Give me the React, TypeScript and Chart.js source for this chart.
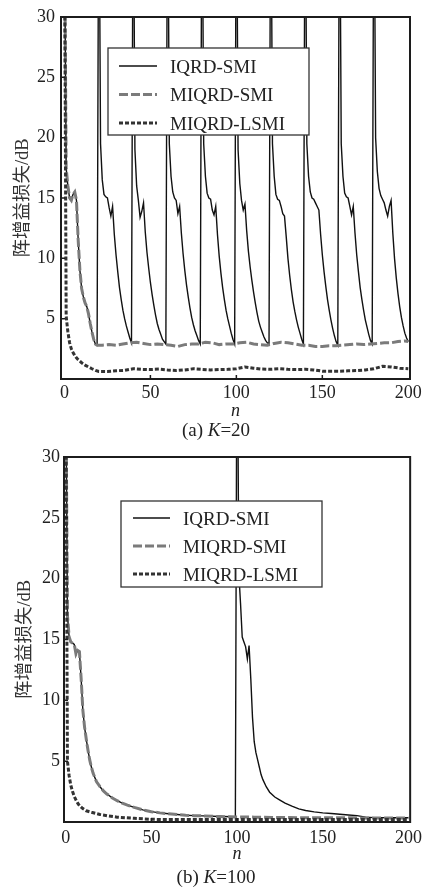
import React, { useEffect, useRef } from "react";
import { Chart, registerables } from "chart.js";

Chart.register(...registerables);

// ---------- labels / ticks ----------
const SERIES_LABELS = ["IQRD-SMI", "MIQRD-SMI", "MIQRD-LSMI"];
const X_TICKS = [0, 50, 100, 150, 200];
const Y_TICKS = [5, 10, 15, 20, 25, 30];
const Y_TITLE = "阵增益损失/dB";
const X_TITLE = "n";

// ---------- (a) K = 20 ----------
// IQRD-SMI, one value per n = 0..200
const k20IqrdY = [
  38, 17.5, 16, 15, 14.8, 15.3, 15.5, 14.8, 11.5, 9.0, 7.5, 6.8, 6.3, 6.0, 5.4, 4.6, 3.9, 3.3, 2.9, 2.8,
  45, 19.5, 16.5, 15.3, 15.1, 15.0, 14.2, 13.5, 14.3, 12.0, 10.3, 8.9, 7.6, 6.6, 5.7, 5.0, 4.4, 3.9, 3.4, 3.0,
  45, 19.0, 16.0, 14.8, 13.4, 13.9, 14.6, 12.2, 10.5, 9.2, 8.0, 7.0, 6.1, 5.3, 4.6, 4.1, 3.7, 3.3, 3.1, 2.9,
  45, 19.5, 16.8, 15.5, 15.0, 14.8, 13.7, 14.3, 12.1, 10.4, 9.0, 7.8, 6.8, 5.9, 5.1, 4.5, 4.0, 3.6, 3.2, 2.9,
  45, 19.5, 16.8, 15.4, 15.0, 14.9, 14.0, 13.6, 14.3, 12.0, 10.2, 8.8, 7.6, 6.6, 5.7, 5.0, 4.4, 3.8, 3.3, 2.9,
  45, 19.0, 16.2, 14.8, 14.0, 14.5, 12.3, 10.6, 9.3, 8.2, 7.2, 6.3, 5.5, 4.8, 4.3, 3.9, 3.5, 3.2, 3.0, 2.9,
  45, 19.5, 16.8, 15.3, 14.9, 14.8, 14.3, 13.7, 13.5, 11.8, 10.0, 8.6, 7.4, 6.4, 5.6, 4.9, 4.3, 3.8, 3.3, 2.9,
  45, 19.5, 16.8, 15.5, 15.0, 14.9, 14.6, 14.3, 14.0, 12.0, 10.3, 8.9, 7.7, 6.6, 5.7, 4.9, 4.2, 3.6, 3.1, 2.8,
  45, 19.5, 16.8, 15.4, 15.1, 15.0, 14.3, 13.6, 14.3, 12.1, 10.3, 8.9, 7.6, 6.6, 5.7, 4.9, 4.3, 3.7, 3.2, 2.9,
  45, 20.0, 17.2, 15.8, 15.2, 14.9, 14.6, 14.0, 13.5, 14.3, 14.8, 12.1, 10.0, 8.4, 7.1, 6.0, 5.1, 4.4, 3.8, 3.4, 3.1,
];

const k20MiqrdX = [
  0, 1, 2, 3, 4, 5, 6, 7, 8, 9, 10, 11, 12, 13, 14, 15, 16, 17, 18, 19,
  22, 26, 30, 34, 38, 42, 46, 50, 54, 58, 62, 66, 70, 74, 78, 82, 86, 90, 94, 98,
  102, 106, 110, 114, 118, 122, 126, 130, 134, 138, 142, 146, 150, 154, 158, 162,
  166, 170, 174, 178, 182, 186, 190, 194, 198, 200,
];
const k20MiqrdY = [
  38, 17.5, 16, 15, 14.8, 15.3, 15.5, 14.8, 11.5, 9.0, 7.5, 6.8, 6.3, 6.0, 5.4, 4.6, 3.9, 3.3, 2.9, 2.8,
  2.8, 2.85, 2.8, 2.9, 3.0, 3.05, 2.95, 2.85, 2.9, 2.85, 2.8, 2.7, 2.85, 2.9, 2.9, 3.05, 3.0, 2.85, 2.9, 2.9,
  3.0, 3.05, 2.9, 2.85, 2.8, 2.95, 3.05, 3.0, 2.9, 2.8, 2.8, 2.7, 2.7, 2.75, 2.75, 2.8,
  2.85, 2.9, 2.85, 2.9, 2.95, 3.0, 3.0, 3.1, 3.15, 3.1,
];

const k20LsmiX = [
  0, 1, 2, 3, 4, 5, 6, 7, 8, 10, 12, 14, 16, 18,
  20, 25, 30, 35, 40, 45, 50, 55, 60, 65, 70, 75, 80, 85, 90, 95, 100,
  105, 110, 115, 120, 125, 130, 135, 140, 145, 150, 155, 160, 165, 170, 175, 180, 185, 190, 195, 200,
];
const k20LsmiY = [
  38, 5.2, 3.9, 3.0, 2.5, 2.2, 1.95, 1.75, 1.6, 1.35, 1.15, 1.0, 0.85, 0.72,
  0.62, 0.62, 0.68, 0.72, 0.85, 0.8, 0.78, 0.82, 0.75, 0.7, 0.75, 0.85, 0.8, 0.75, 0.78, 0.8, 0.85,
  1.0, 0.9, 0.82, 0.8, 0.85, 0.8, 0.78, 0.8, 0.75, 0.65, 0.65, 0.65, 0.68, 0.7, 0.75, 0.85, 1.05, 1.0, 0.9, 0.85,
];

// ---------- (b) K = 100 ----------
const k100IqrdX = [
  0, 1, 2, 3, 4, 5, 6, 7, 8, 9, 10, 11, 12, 13, 14, 15, 16,
  18, 20, 22, 24, 27, 30, 33, 36, 40, 45, 50, 55, 60, 65, 70, 75, 80, 90, 99,
  100, 101, 102, 103, 104, 105, 106, 107, 108, 109, 110, 111, 112, 113, 114, 115,
  117, 119, 122, 125, 128, 132, 136, 140, 145, 150, 155, 160, 165, 170, 175, 180, 190, 200,
];
const k100IqrdY = [
  38, 17, 15.2, 14.8, 14.7, 14.6, 13.8, 14.1, 14.0, 11.8, 9.2, 7.8, 6.8, 5.9, 5.1, 4.5, 4.0,
  3.3, 2.9, 2.55, 2.3, 2.0, 1.75, 1.55, 1.38, 1.2, 1.0, 0.85, 0.75, 0.68, 0.62, 0.56, 0.52, 0.5, 0.45, 0.43,
  45, 20.5, 18.0, 15.2, 14.8, 14.4, 13.4, 14.5, 11.8, 8.6, 6.6, 5.7, 5.1, 4.5, 3.9, 3.5,
  2.9, 2.45, 2.05, 1.8, 1.55, 1.3, 1.08, 0.95, 0.83, 0.75, 0.7, 0.64, 0.58, 0.52, 0.4, 0.36, 0.35, 0.35,
];

const k100MiqrdX = [
  0, 1, 2, 3, 4, 5, 6, 7, 8, 9, 10, 11, 12, 13, 14, 15, 16,
  18, 20, 22, 24, 27, 30, 33, 36, 40, 45, 50, 55, 60, 65, 70, 75, 80, 90, 100,
  110, 120, 140, 160, 180, 200,
];
const k100MiqrdY = [
  38, 17, 15.2, 14.8, 14.7, 14.6, 13.8, 14.1, 14.0, 11.8, 9.2, 7.8, 6.8, 5.9, 5.1, 4.5, 4.0,
  3.3, 2.9, 2.55, 2.3, 2.0, 1.75, 1.55, 1.38, 1.2, 1.0, 0.85, 0.75, 0.68, 0.62, 0.56, 0.52, 0.5, 0.45, 0.42,
  0.4, 0.38, 0.35, 0.35, 0.33, 0.33,
];

const k100LsmiX = [0, 1, 2, 3, 4, 5, 6, 7, 8, 10, 12, 15, 20, 25, 30, 40, 50, 60, 80, 100, 120, 150, 200];
const k100LsmiY = [38, 5.0, 3.8, 3.0, 2.5, 2.1, 1.8, 1.55, 1.35, 1.1, 0.92, 0.8, 0.62, 0.5, 0.4, 0.3, 0.22, 0.2, 0.2, 0.2, 0.2, 0.2, 0.2];

// ---------- styles ----------
const SERIF = "'Liberation Serif', 'Times New Roman', serif";
const TITLE_FONT = "'Liberation Serif', 'Noto Sans CJK SC', serif";
const TEXT = "#222";

const STYLES = [
  { borderColor: "#111", borderWidth: 1.4, borderDash: [] as number[], order: 2 },
  { borderColor: "#7b7b7b", borderWidth: 3, borderDash: [9, 3], order: 1 },
  { borderColor: "#333", borderWidth: 3, borderDash: [4, 2], order: 0 },
];

const toPts = (xs: number[], ys: number[]) => ys.map((y, i) => ({ x: xs[i], y }));
const idxPts = (ys: number[]) => ys.map((y, n) => ({ x: n, y }));

const decorPlugin = {
  id: "decor",
  afterDraw(chart: any, _args: any, opts: any) {
    const { ctx, chartArea: a } = chart;
    const xs = chart.scales.x;
    const ys = chart.scales.y;
    ctx.save();
    // frame
    ctx.strokeStyle = "#1c1c1c";
    ctx.lineWidth = 2;
    ctx.setLineDash([]);
    ctx.strokeRect(a.left, a.top, a.right - a.left, a.bottom - a.top);
    // inward ticks
    ctx.lineWidth = 1.5;
    ctx.beginPath();
    X_TICKS.forEach((v) => {
      if (v > 0 && v < 200) {
        const px = xs.getPixelForValue(v);
        ctx.moveTo(px, a.bottom);
        ctx.lineTo(px, a.bottom - 4);
      }
    });
    Y_TICKS.forEach((v) => {
      if (v < 30) {
        const py = ys.getPixelForValue(v);
        ctx.moveTo(a.left, py);
        ctx.lineTo(a.left + 4, py);
      }
    });
    ctx.stroke();
    // legend
    const L = opts.box;
    ctx.fillStyle = "#fff";
    ctx.fillRect(L[0], L[1], L[2], L[3]);
    ctx.strokeStyle = "#333";
    ctx.lineWidth = 1.3;
    ctx.strokeRect(L[0], L[1], L[2], L[3]);
    const rows = opts.rows;
    chart.data.datasets.forEach((ds: any, i: number) => {
      const y = rows[i];
      ctx.setLineDash(ds.borderDash || []);
      ctx.strokeStyle = ds.borderColor;
      ctx.lineWidth = ds.borderWidth;
      ctx.beginPath();
      ctx.moveTo(opts.line[0], y);
      ctx.lineTo(opts.line[1], y);
      ctx.stroke();
      ctx.setLineDash([]);
      ctx.fillStyle = TEXT;
      ctx.font = `19px ${SERIF}`;
      ctx.textBaseline = "alphabetic";
      ctx.textAlign = "left";
      ctx.fillText(ds.label, opts.textX, y + 6.5);
    });
    ctx.restore();
  },
};

type PanelProps = {
  top: number;
  height: number;
  series: { x: number; y: number }[][];
  xMin: number;
  xMax: number;
  pad: { top: number; right: number };
  yWidth: number;
  xHeight: number;
  yTickPad: number;
  xTickPad: number;
  yTitlePad: number;
  legend: { box: number[]; rows: number[]; line: number[]; textX: number };
};

function Panel(p: PanelProps) {
  const ref = useRef<HTMLCanvasElement>(null);
  useEffect(() => {
    const chart = new Chart(ref.current as HTMLCanvasElement, {
      type: "line",
      data: {
        datasets: p.series.map((pts, i) => ({
          label: SERIES_LABELS[i],
          data: pts,
          borderColor: STYLES[i].borderColor,
          borderWidth: STYLES[i].borderWidth,
          borderDash: STYLES[i].borderDash,
          order: STYLES[i].order,
          pointRadius: 0,
          tension: 0,
          fill: false,
        })),
      },
      options: {
        animation: false,
        responsive: false,
        events: [],
        layout: { padding: { top: p.pad.top, right: p.pad.right, left: 0, bottom: 0 } },
        plugins: {
          legend: { display: false },
          tooltip: { enabled: false },
          decor: p.legend,
        } as any,
        scales: {
          x: {
            type: "linear",
            min: p.xMin,
            max: p.xMax,
            grid: { display: false, drawTicks: false },
            border: { display: false },
            afterBuildTicks: (s: any) => {
              s.ticks = X_TICKS.map((v) => ({ value: v }));
            },
            afterFit: (s: any) => {
              s.height = p.xHeight;
            },
            ticks: {
              padding: p.xTickPad,
              color: TEXT,
              font: { family: SERIF, size: 18 },
              maxRotation: 0,
              autoSkip: false,
            },
            title: {
              display: true,
              text: X_TITLE,
              color: TEXT,
              font: { family: SERIF, size: 18, style: "italic" },
              padding: { top: 0, bottom: 0 },
            },
          },
          y: {
            type: "linear",
            min: 0,
            max: 30,
            grid: { display: false, drawTicks: false },
            border: { display: false },
            afterBuildTicks: (s: any) => {
              s.ticks = Y_TICKS.map((v) => ({ value: v }));
            },
            afterFit: (s: any) => {
              s.width = p.yWidth;
            },
            ticks: {
              padding: p.yTickPad,
              color: TEXT,
              font: { family: SERIF, size: 18 },
              autoSkip: false,
            },
            title: {
              display: true,
              text: Y_TITLE,
              color: "#333",
              font: { family: TITLE_FONT, size: 18.5 },
              padding: { top: p.yTitlePad, bottom: 0 },
            },
          },
        },
      } as any,
      plugins: [decorPlugin],
    });
    return () => chart.destroy();
  }, []);
  return (
    <canvas
      ref={ref}
      width={427}
      height={p.height}
      style={{ position: "absolute", left: 0, top: p.top, width: 427, height: p.height }}
    />
  );
}

const captionStyle = (top: number): React.CSSProperties => ({
  position: "absolute",
  left: 0,
  top,
  width: 432,
  height: 20,
  lineHeight: "20px",
  textAlign: "center",
  fontFamily: SERIF,
  fontSize: 19,
  color: TEXT,
  whiteSpace: "nowrap",
});

export default function App() {
  return (
    <div
      style={{
        position: "fixed",
        left: 0,
        top: 0,
        width: 427,
        height: 891,
        background: "#fff",
        overflow: "hidden",
      }}
    >
      <Panel
        top={0}
        height={422}
        series={[idxPts(k20IqrdY), toPts(k20MiqrdX, k20MiqrdY), toPts(k20LsmiX, k20LsmiY)]}
        xMin={-2}
        xMax={201}
        pad={{ top: 17, right: 17 }}
        yWidth={61}
        xHeight={43}
        yTickPad={6}
        xTickPad={3}
        yTitlePad={12}
        legend={{ box: [108, 48, 201, 87], rows: [66, 94.5, 123], line: [119, 157], textX: 170 }}
      />
      <div style={captionStyle(420)}>
        (a) <i>K</i>=20
      </div>
      <Panel
        top={440}
        height={425}
        series={[toPts(k100IqrdX, k100IqrdY), toPts(k100MiqrdX, k100MiqrdY), toPts(k100LsmiX, k100LsmiY)]}
        xMin={-1}
        xMax={201}
        pad={{ top: 17, right: 12 }}
        yWidth={64}
        xHeight={43}
        yTickPad={4}
        xTickPad={5}
        yTitlePad={14}
        legend={{ box: [121, 61, 201, 86], rows: [78, 106, 134], line: [133, 170], textX: 183 }}
      />
      <div style={captionStyle(867)}>
        (b) <i>K</i>=100
      </div>
    </div>
  );
}
